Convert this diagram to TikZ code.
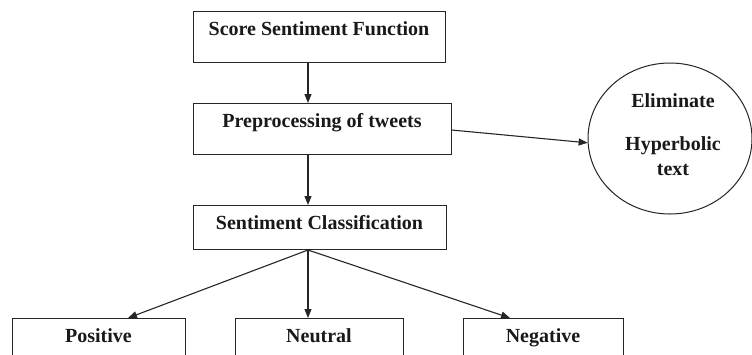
\documentclass[tikz,border=0pt]{standalone}
\usepackage{fontspec}
\setmainfont{Liberation Serif}
\usetikzlibrary{arrows.meta,shapes.geometric}
\tikzset{
  boxnode/.style={draw=black!85, line width=1pt, inner sep=0pt, anchor=north,
    font=\fontsize{20}{25}\selectfont\bfseries, text=black!90},
  ellnode/.style={draw=black!85, line width=1pt, ellipse, inner sep=0pt,
    minimum width=164pt, minimum height=151pt},
  elltxt/.style={anchor=base, inner sep=0pt, font=\fontsize{20}{25}\selectfont\bfseries, text=black!90},
  arr/.style={draw=black!85, line width=1.1pt, -{Triangle[length=9pt,width=7pt]}}
}
\begin{document}
\begin{tikzpicture}[x=1pt,y=-1pt]
\useasboundingbox (0,0) rectangle (752,354);
\clip (0,0) rectangle (752,354);
\fill[white] (0,0) rectangle (752,354);
\node[boxnode, minimum width=252pt, text height=24pt, text depth=27pt] (score) at (319,11) {Score Sentiment Function};
\node[boxnode, minimum width=258pt, text height=24pt, text depth=27pt] (pre) at (322,103) {Preprocessing of tweets};
\node[boxnode, minimum width=253pt, text height=24pt, text depth=20pt] (sent) at (319.5,205) {Sentiment Classification};
\node[boxnode, minimum width=173pt, text height=24pt, text depth=38pt] (pos) at (98.5,318) {Positive};
\node[boxnode, minimum width=168pt, text height=24pt, text depth=38pt] (neu) at (319,318) {Neutral};
\node[boxnode, minimum width=160pt, text height=24pt, text depth=38pt] (neg) at (543,318) {Negative};
\node[ellnode] (ell) at (670,138.5) {};
\node[elltxt] (t1) at (673,107) {Eliminate};
\node[elltxt] (t2) at (673,150) {Hyperbolic};
\node[elltxt] (t3) at (673,175) {text};
\coordinate (spine) at (308,0);
\coordinate (preout) at (451,130);
\coordinate (postip) at (128,318);
\coordinate (negtip) at (510,318);
\draw[arr] (score.south -| spine) -- (pre.north -| spine);
\draw[arr] (pre.south -| spine) -- (sent.north -| spine);
\draw[arr] (pre.east |- preout) -- (ell.183);
\draw[arr] (sent.south -| spine) -- (neu.north -| spine);
\draw[arr] (sent.south -| spine) -- (pos.north -| postip);
\draw[arr] (sent.south -| spine) -- (neg.north -| negtip);
\end{tikzpicture}
\end{document}
